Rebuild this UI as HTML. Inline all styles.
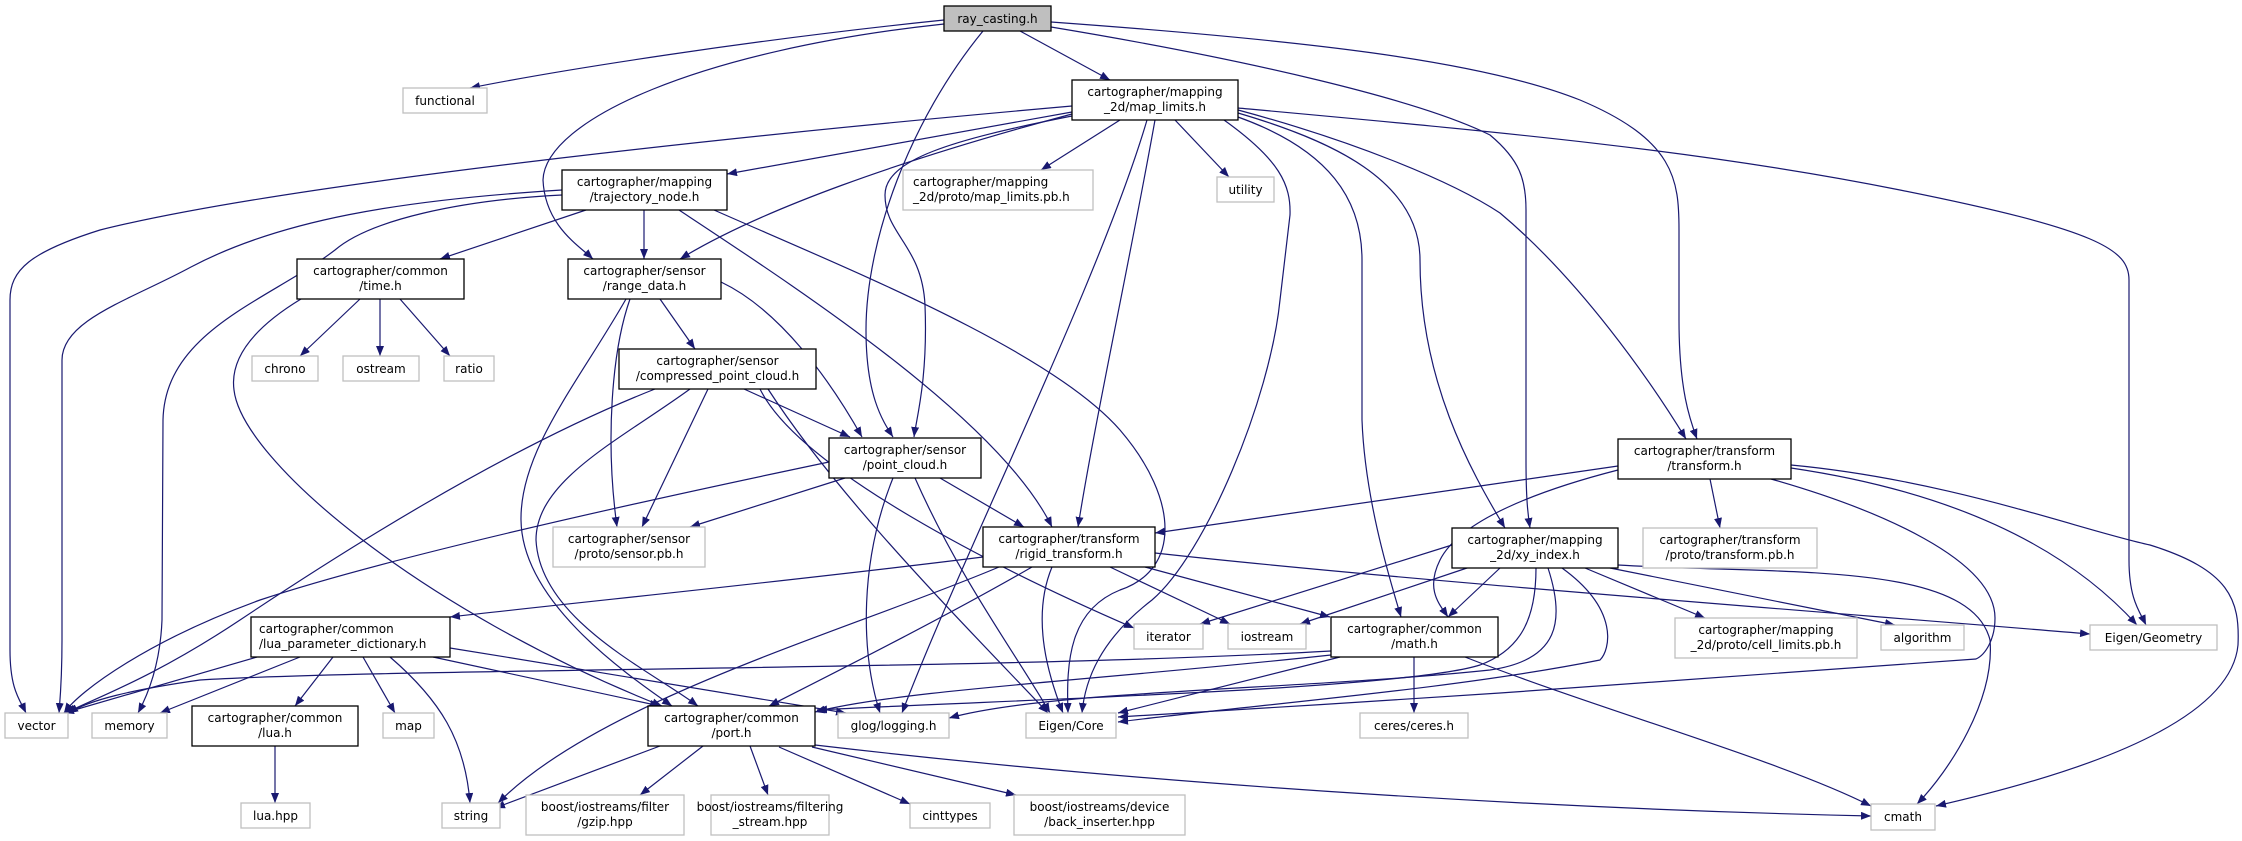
<!DOCTYPE html>
<html><head><meta charset="utf-8"><style>
html,body{margin:0;padding:0;background:#fff;}
svg{display:block;}
text{font-family:"DejaVu Sans","Liberation Sans",sans-serif;font-size:12px;fill:#000;}
.e{fill:none;stroke:#191970;stroke-width:1.2;marker-end:url(#a);}
.n{fill:#fff;stroke:#000;stroke-width:1.3;}
.g{fill:#fff;stroke:#bfbfbf;stroke-width:1.3;}
</style></head><body>
<svg width="2242" height="841" viewBox="0 0 2242 841" xmlns="http://www.w3.org/2000/svg">
<defs><marker id="a" markerUnits="userSpaceOnUse" markerWidth="11" markerHeight="8" refX="10" refY="4" orient="auto"><path d="M0,0 L10,4 L0,8 z" fill="#191970"/></marker></defs>
<g>
<path class="e" d="M944,20 C750,40 560,70 470,88"/>
<path class="e" d="M1020,31 L1110,80"/>
<path class="e" d="M944,24 C700,50 545,120 543,180 C545,225 578,245 593,259"/>
<path class="e" d="M983,31 C910,120 866,240 866,330 C866,395 882,420 893,437"/>
<path class="e" d="M1051,22 C1300,40 1480,60 1580,100 C1675,140 1679,180 1679,230 L1679,320 C1679,390 1690,420 1697,439"/>
<path class="e" d="M1051,27 C1250,60 1420,100 1490,135 C1520,160 1526,180 1526,210 L1526,460 C1526,500 1528,515 1530,528"/>
<path class="e" d="M1072,106 C800,130 300,180 100,230 C30,252 10,270 10,300 L10,650 C10,690 20,700 26,713"/>
<path class="e" d="M1072,112 L727,174"/>
<path class="e" d="M1120,120 L1041,170"/>
<path class="e" d="M1175,120 L1229,177"/>
<path class="e" d="M1072,114 C900,160 760,210 680,259"/>
<path class="e" d="M1072,116 C950,140 885,160 885,195 C885,235 922,245 925,305 C928,380 916,420 914,437"/>
<path class="e" d="M1147,120 C1100,280 960,560 902,713"/>
<path class="e" d="M1155,120 C1130,260 1095,420 1078,527"/>
<path class="e" d="M1224,120 C1280,160 1291,185 1290,215 L1280,300 C1270,400 1205,555 1152,600 C1100,640 1085,680 1082,713"/>
<path class="e" d="M1238,117 C1330,150 1362,200 1362,260 L1362,420 C1365,500 1390,580 1401,617"/>
<path class="e" d="M1238,113 C1330,140 1420,180 1420,260 C1420,380 1470,470 1505,528"/>
<path class="e" d="M1238,110 C1350,140 1450,180 1500,213 C1580,280 1650,380 1686,439"/>
<path class="e" d="M1238,108 C1500,132 1700,150 1900,190 C2100,230 2129,250 2129,280 L2129,560 C2129,600 2140,612 2146,625"/>
<path class="e" d="M562,190 C400,200 280,220 191,267 C130,300 62,320 62,360 L62,640 C62,680 60,700 59,713"/>
<path class="e" d="M562,195 C460,200 370,220 335,250 C270,300 165,330 163,420 L162,620 C160,670 145,700 138,713"/>
<path class="e" d="M586,210 L440,259"/>
<path class="e" d="M644,210 L644,259"/>
<path class="e" d="M679,210 C800,290 1000,420 1052,527"/>
<path class="e" d="M714,210 C850,270 1050,350 1120,430 C1180,500 1180,570 1120,590 C1070,610 1066,660 1068,713"/>
<path class="e" d="M360,299 L300,356"/>
<path class="e" d="M380,299 L380,356"/>
<path class="e" d="M400,299 L450,356"/>
<path class="e" d="M301,299 C250,330 230,360 234,390 C242,460 420,610 662,706"/>
<path class="e" d="M660,299 L695,349"/>
<path class="e" d="M721,282 C780,310 830,380 862,437"/>
<path class="e" d="M630,299 C612,350 605,440 617,527"/>
<path class="e" d="M626,299 C580,380 520,450 521,520 C522,600 620,670 672,706"/>
<path class="e" d="M655,389 C500,450 330,560 240,620 C150,680 90,700 66,713"/>
<path class="e" d="M690,389 C620,440 536,480 536,540 C540,620 650,670 698,706"/>
<path class="e" d="M708,389 L642,527"/>
<path class="e" d="M744,389 L850,437"/>
<path class="e" d="M760,389 C800,470 1000,570 1134,628"/>
<path class="e" d="M768,389 C840,500 960,620 1048,713"/>
<path class="e" d="M829,462 C600,510 380,560 260,600 C150,640 80,690 64,713"/>
<path class="e" d="M845,478 L690,527"/>
<path class="e" d="M940,478 L1024,527"/>
<path class="e" d="M893,478 C860,560 860,650 880,713"/>
<path class="e" d="M915,478 C960,580 1020,660 1050,713"/>
<path class="e" d="M983,557 C800,580 600,600 450,617"/>
<path class="e" d="M1032,567 C940,620 820,680 769,706"/>
<path class="e" d="M999,567 C850,630 600,700 498,803"/>
<path class="e" d="M1052,567 C1030,620 1050,680 1063,713"/>
<path class="e" d="M1110,567 L1230,624"/>
<path class="e" d="M1145,567 L1330,617"/>
<path class="e" d="M1155,553 C1400,580 1800,610 2090,634"/>
<path class="e" d="M1618,466 L1155,533"/>
<path class="e" d="M1618,470 C1540,490 1460,520 1440,560 C1425,590 1440,605 1448,617"/>
<path class="e" d="M1710,479 L1720,528"/>
<path class="e" d="M1771,479 C1880,510 1995,560 1995,618 C1995,640 1985,655 1976,659 L1500,693 C1400,700 1200,712 1118,717"/>
<path class="e" d="M1791,468 C1940,490 2060,540 2137,625"/>
<path class="e" d="M1791,465 C1950,480 2080,530 2150,545 C2230,570 2240,600 2238,645 C2230,730 2050,780 1936,806"/>
<path class="e" d="M1452,545 L1200,624"/>
<path class="e" d="M1470,567 L1300,624"/>
<path class="e" d="M1500,568 L1448,617"/>
<path class="e" d="M1585,568 L1705,618"/>
<path class="e" d="M1610,568 L1895,625"/>
<path class="e" d="M1618,565 C1780,575 1970,560 1990,640 C1995,700 1950,770 1917,804"/>
<path class="e" d="M1536,568 C1536,620 1520,650 1480,665 C1400,690 1000,700 817,710"/>
<path class="e" d="M1548,568 C1565,620 1560,660 1490,670 C1300,690 1050,690 949,718"/>
<path class="e" d="M1562,568 C1620,610 1610,650 1600,660 C1450,690 1250,705 1118,722"/>
<path class="e" d="M1331,651 C1000,670 400,668 200,680 C130,690 90,700 68,713"/>
<path class="e" d="M1331,655 C1100,680 900,690 815,712"/>
<path class="e" d="M1340,657 L1118,713"/>
<path class="e" d="M1414,657 L1414,713"/>
<path class="e" d="M1465,657 C1600,710 1780,760 1871,806"/>
<path class="e" d="M257,657 L64,713"/>
<path class="e" d="M300,657 L160,713"/>
<path class="e" d="M333,657 L295,706"/>
<path class="e" d="M363,657 L395,713"/>
<path class="e" d="M390,657 C440,700 465,740 470,803"/>
<path class="e" d="M433,657 L660,706"/>
<path class="e" d="M450,648 C600,672 760,700 846,713"/>
<path class="e" d="M275,746 L275,803"/>
<path class="e" d="M660,746 L495,808"/>
<path class="e" d="M703,746 L640,795"/>
<path class="e" d="M750,746 L768,795"/>
<path class="e" d="M779,747 L910,804"/>
<path class="e" d="M812,747 L1016,795"/>
<path class="e" d="M815,745 C1200,790 1600,810 1871,816"/>
</g>
<g>
<rect x="944" y="6" width="107" height="25" fill="#bfbfbf" stroke="#000" stroke-width="1.3"/>
<text x="997.5" y="23" text-anchor="middle">ray_casting.h</text>
<rect class="g" x="403" y="88" width="84" height="25"/><text x="445" y="105" text-anchor="middle">functional</text>
<rect class="n" x="1072" y="80" width="166" height="40"/><text x="1155" y="96" text-anchor="middle">cartographer/mapping</text><text x="1155" y="111" text-anchor="middle">_2d/map_limits.h</text>
<rect class="n" x="562" y="170" width="165" height="40"/><text x="644.5" y="186" text-anchor="middle">cartographer/mapping</text><text x="644.5" y="201" text-anchor="middle">/trajectory_node.h</text>
<rect class="g" x="903" y="170" width="190" height="40"/><text x="913" y="186">cartographer/mapping</text><text x="913" y="201">_2d/proto/map_limits.pb.h</text>
<rect class="g" x="1217" y="177" width="57" height="25"/><text x="1245.5" y="194" text-anchor="middle">utility</text>
<rect class="n" x="297" y="259" width="167" height="40"/><text x="380.5" y="275" text-anchor="middle">cartographer/common</text><text x="380.5" y="290" text-anchor="middle">/time.h</text>
<rect class="n" x="568" y="259" width="153" height="40"/><text x="644.5" y="275" text-anchor="middle">cartographer/sensor</text><text x="644.5" y="290" text-anchor="middle">/range_data.h</text>
<rect class="g" x="252" y="356" width="66" height="25"/><text x="285" y="373" text-anchor="middle">chrono</text>
<rect class="g" x="343" y="356" width="76" height="25"/><text x="381" y="373" text-anchor="middle">ostream</text>
<rect class="g" x="444" y="356" width="50" height="25"/><text x="469" y="373" text-anchor="middle">ratio</text>
<rect class="n" x="619" y="349" width="197" height="40"/><text x="717.5" y="365" text-anchor="middle">cartographer/sensor</text><text x="717.5" y="380" text-anchor="middle">/compressed_point_cloud.h</text>
<rect class="n" x="829" y="438" width="152" height="40"/><text x="905" y="454" text-anchor="middle">cartographer/sensor</text><text x="905" y="469" text-anchor="middle">/point_cloud.h</text>
<rect class="n" x="1618" y="439" width="173" height="40"/><text x="1704.5" y="455" text-anchor="middle">cartographer/transform</text><text x="1704.5" y="470" text-anchor="middle">/transform.h</text>
<rect class="g" x="553" y="527" width="152" height="40"/><text x="629" y="543" text-anchor="middle">cartographer/sensor</text><text x="629" y="558" text-anchor="middle">/proto/sensor.pb.h</text>
<rect class="n" x="983" y="527" width="172" height="40"/><text x="1069" y="543" text-anchor="middle">cartographer/transform</text><text x="1069" y="558" text-anchor="middle">/rigid_transform.h</text>
<rect class="n" x="1452" y="528" width="166" height="40"/><text x="1535" y="544" text-anchor="middle">cartographer/mapping</text><text x="1535" y="559" text-anchor="middle">_2d/xy_index.h</text>
<rect class="g" x="1643" y="528" width="174" height="40"/><text x="1730" y="544" text-anchor="middle">cartographer/transform</text><text x="1730" y="559" text-anchor="middle">/proto/transform.pb.h</text>
<rect class="g" x="1134" y="624" width="69" height="25"/><text x="1168.5" y="641" text-anchor="middle">iterator</text>
<rect class="g" x="1228" y="624" width="78" height="25"/><text x="1267" y="641" text-anchor="middle">iostream</text>
<rect class="n" x="1331" y="617" width="167" height="40"/><text x="1414.5" y="633" text-anchor="middle">cartographer/common</text><text x="1414.5" y="648" text-anchor="middle">/math.h</text>
<rect class="g" x="1675" y="618" width="182" height="40"/><text x="1766" y="634" text-anchor="middle">cartographer/mapping</text><text x="1766" y="649" text-anchor="middle">_2d/proto/cell_limits.pb.h</text>
<rect class="g" x="1881" y="625" width="83" height="25"/><text x="1922.5" y="642" text-anchor="middle">algorithm</text>
<rect class="g" x="2090" y="625" width="127" height="25"/><text x="2153.5" y="642" text-anchor="middle">Eigen/Geometry</text>
<rect class="n" x="251" y="617" width="199" height="40"/><text x="259" y="633">cartographer/common</text><text x="259" y="648">/lua_parameter_dictionary.h</text>
<rect class="g" x="5" y="713" width="63" height="25"/><text x="36.5" y="730" text-anchor="middle">vector</text>
<rect class="g" x="92" y="713" width="75" height="25"/><text x="129.5" y="730" text-anchor="middle">memory</text>
<rect class="n" x="192" y="706" width="166" height="40"/><text x="275" y="722" text-anchor="middle">cartographer/common</text><text x="275" y="737" text-anchor="middle">/lua.h</text>
<rect class="g" x="383" y="713" width="51" height="25"/><text x="408.5" y="730" text-anchor="middle">map</text>
<rect class="n" x="648" y="706" width="167" height="40"/><text x="731.5" y="722" text-anchor="middle">cartographer/common</text><text x="731.5" y="737" text-anchor="middle">/port.h</text>
<rect class="g" x="838" y="713" width="111" height="25"/><text x="893.5" y="730" text-anchor="middle">glog/logging.h</text>
<rect class="g" x="1026" y="713" width="90" height="25"/><text x="1071" y="730" text-anchor="middle">Eigen/Core</text>
<rect class="g" x="1360" y="713" width="108" height="25"/><text x="1414" y="730" text-anchor="middle">ceres/ceres.h</text>
<rect class="g" x="241" y="803" width="69" height="25"/><text x="275.5" y="820" text-anchor="middle">lua.hpp</text>
<rect class="g" x="442" y="803" width="58" height="25"/><text x="471" y="820" text-anchor="middle">string</text>
<rect class="g" x="526" y="795" width="158" height="40"/><text x="605" y="811" text-anchor="middle">boost/iostreams/filter</text><text x="605" y="826" text-anchor="middle">/gzip.hpp</text>
<rect class="g" x="711" y="795" width="118" height="40"/><text x="770" y="811" text-anchor="middle">boost/iostreams/filtering</text><text x="770" y="826" text-anchor="middle">_stream.hpp</text>
<rect class="g" x="910" y="803" width="80" height="25"/><text x="950" y="820" text-anchor="middle">cinttypes</text>
<rect class="g" x="1014" y="795" width="171" height="40"/><text x="1099.5" y="811" text-anchor="middle">boost/iostreams/device</text><text x="1099.5" y="826" text-anchor="middle">/back_inserter.hpp</text>
<rect class="g" x="1871" y="804" width="64" height="26"/><text x="1903" y="821" text-anchor="middle">cmath</text>
</g>
</svg>
</body></html>
